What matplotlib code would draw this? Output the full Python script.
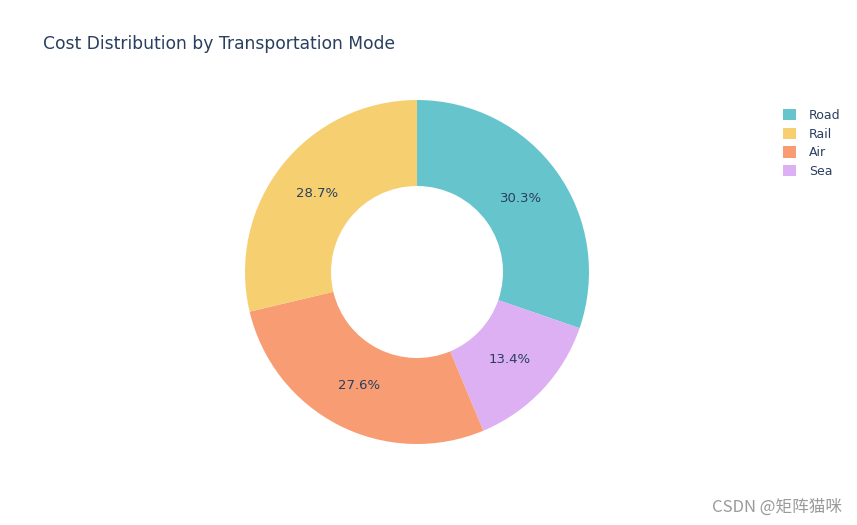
import matplotlib.pyplot as plt
from matplotlib.patches import Patch

modes = ["Road", "Sea", "Air", "Rail"]
shares = [30.3, 13.4, 27.6, 28.7]
colors = ["#66C5CC", "#DCB0F2", "#F89C74", "#F6CF71"]
legend_order = ["Road", "Rail", "Air", "Sea"]

W, H = 857, 525
fig = plt.figure(figsize=(W / 100, H / 100), dpi=100)

# pie centre (417, 272) px, outer radius 172 px
cx, cy, r = 417, 272, 172
ax = fig.add_axes([(cx - r) / W, (H - cy - r) / H, 2 * r / W, 2 * r / H])
wedges, texts, autotexts = ax.pie(
    shares, colors=colors, startangle=90, counterclock=False,
    radius=1, autopct="%1.1f%%", pctdistance=0.74,
    wedgeprops=dict(width=0.5, linewidth=0),
    textprops=dict(color="#2a3f5f", fontsize=9.5),
)
ax.set_xlim(-1, 1)
ax.set_ylim(-1, 1)
ax.set_aspect("equal")
ax.axis("off")

handles = [Patch(facecolor=colors[modes.index(m)], edgecolor="none") for m in legend_order]
fig.legend(handles, legend_order, loc="upper left", bbox_to_anchor=(778 / W, 1 - 104 / H),
           frameon=False, fontsize=9, labelcolor="#2a3f5f", handlelength=1.0, handleheight=1.0,
           handletextpad=1.1, labelspacing=0.45, borderaxespad=0)

fig.text(43 / W, 1 - 44 / H, "Cost Distribution by Transportation Mode",
         fontsize=12.3, color="#2a3f5f", va="center", ha="left")

fig.text(842 / W, 1 - 507 / H, "CSDN @矩阵猫咪", fontsize=12, color="#9a9a9a",
         ha="right", va="center", family=["Noto Sans CJK SC", "DejaVu Sans"])

fig.savefig("out.png", dpi=100)
